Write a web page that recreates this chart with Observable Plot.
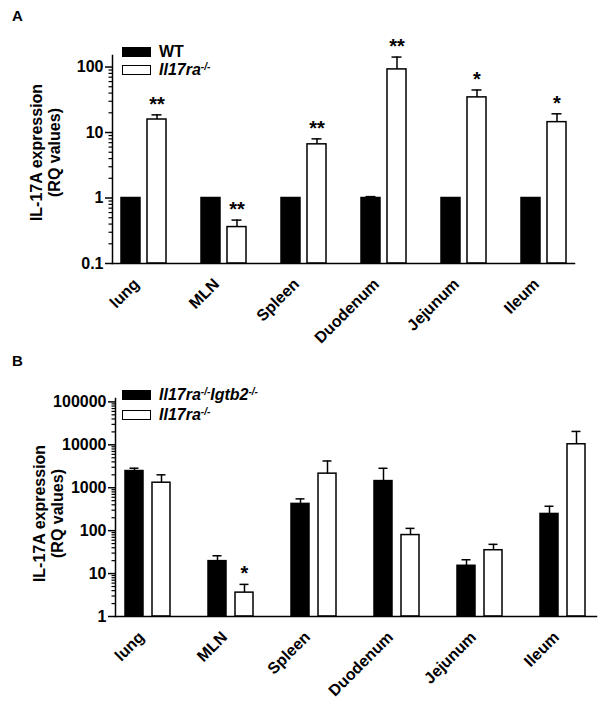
<!DOCTYPE html>
<html><head><meta charset="utf-8">
<script src="https://cdn.jsdelivr.net/npm/d3@7"></script>
<script src="https://cdn.jsdelivr.net/npm/@observablehq/plot@0.6"></script>
<style>
body{margin:0;background:#fff;font-family:"Liberation Sans",Arial,sans-serif;color:#000}
#wrap{position:relative;width:604px;height:702px;overflow:hidden;background:#fff}
.panel{position:absolute;left:0}
.letter{position:absolute;left:12px;font:bold 15px/15px "Liberation Sans",Arial,sans-serif}
.row{position:absolute;left:122px;height:13px;display:flex;align-items:center;white-space:nowrap;font:bold 16px/16px "Liberation Sans",Arial,sans-serif}
.sw{display:inline-block;width:27px;height:8px;border:1.5px solid #000;margin-right:8px;box-sizing:content-box}
.row i sup{font-size:10px;vertical-align:5px;line-height:0}
svg text{font-weight:bold}
</style></head>
<body><div id="wrap"></div>
<script>
// ---- data ----
const organs = ["lung", "MLN", "Spleen", "Duodenum", "Jejunum", "Ileum"];
// Panel A: WT vs Il17ra-/-
const aWT      = [1, 1, 1, 1, 1, 1];
const aWTerr   = [1.0, 1.0, 1.0, 1.05, 1.0, 1.0];
const aKO      = [15.8, 0.36, 6.6, 92, 34.4, 14.4];
const aKOerr   = [18.6, 0.46, 8.0, 142, 44.6, 19.3];
const aKOsig   = ["**", "**", "**", "**", "*", "*"];
const aTicks   = [0.1, 1, 10, 100];
// Panel B: Il17ra-/-Igtb2-/- vs Il17ra-/-
const bDKO     = [2450, 19.5, 420, 1430, 15.2, 245];
const bDKOerr  = [2850, 26, 550, 2840, 21, 370];
const bKO      = [1310, 3.6, 2130, 79, 35, 10300];
const bKOerr   = [2000, 5.6, 4200, 113, 48, 20500];
const bKOsig   = ["", "*", "", "", "", ""];
const bTicks   = [1, 10, 100, 1000, 10000, 100000];
const yTitle   = "IL-17A expression\n(RQ values)";

function rows(v1, e1, v2, e2, s2) {
  return organs.flatMap((o, i) => [
    {organ: o, series: "s1", value: v1[i], err: e1[i], sig: ""},
    {organ: o, series: "s2", value: v2[i], err: e2[i], sig: s2[i]}
  ]);
}
function minorTicks(lo, hi) {
  const out = [];
  for (let p = Math.floor(Math.log10(lo)); p <= Math.ceil(Math.log10(hi)); p++)
    for (let k = 2; k <= 9; k++) { const v = k * Math.pow(10, p); if (v > lo && v < hi) out.push(+v.toPrecision(3)); }
  return out;
}

function panel(data, o) {
  return Plot.plot({
    width: 604, height: o.height,
    marginTop: o.mt, marginBottom: o.mb, marginLeft: o.ml, marginRight: o.mr,
    style: {fontFamily: '"Liberation Sans", Arial, sans-serif', fontSize: "16px", color: "#000", background: "#fff", overflow: "visible"},
    fx: {domain: organs, paddingInner: o.fxPi, paddingOuter: 0, label: null},
    x: {domain: ["s1", "s2"], paddingInner: o.xPi, paddingOuter: o.xPo, axis: null},
    y: {type: "log", domain: o.domain, axis: null},
    color: {domain: ["s1", "s2"], range: ["#000", "#fff"]},
    marks: [
      Plot.barY(data, {fx: "organ", x: "series", y1: o.domain[0], y2: "value", fill: "series", stroke: "#000", strokeWidth: 1.5}),
      Plot.ruleX(data, {fx: "organ", x: "series", y1: "value", y2: "err", stroke: "#000", strokeWidth: 1.5}),
      Plot.tickY(data, {fx: "organ", x: "series", y: "err", stroke: "#000", strokeWidth: 1.5, insetLeft: 4.5, insetRight: 4.5}),
      Plot.text(data, {fx: "organ", x: "series", y: "err", text: "sig", lineAnchor: "bottom", dy: -4, fontSize: 20}),
      Plot.axisY({ticks: o.ticks, tickFormat: d => String(d), tickSize: 7, tickPadding: 2, label: null, fontSize: 16, strokeWidth: 1.5}),
      Plot.axisY({ticks: minorTicks(o.domain[0], o.domain[1]), tickFormat: () => "", tickSize: 3.5, label: null, strokeWidth: 1.2}),
      Plot.axisFx({anchor: "bottom", tickSize: 0, tickRotate: -45, tickPadding: 18, dx: -7, label: null, fontSize: 16}),
      Plot.frame({anchor: "left", facet: "super", strokeWidth: 1.5}),
      Plot.frame({anchor: "bottom", facet: "super", strokeWidth: 1.5}),
      Plot.text([yTitle], {frameAnchor: "left", facet: "super", rotate: -90, textAnchor: "middle", dx: -67, dy: o.titleDy, lineAnchor: "middle", fontSize: 16, lineHeight: 1.1})
    ]
  });
}

const wrap = document.getElementById("wrap");
const pA = panel(rows(aWT, aWTerr, aKO, aKOerr, aKOsig),
  {height: 360, mt: 55, mb: 97, ml: 110, mr: 27, domain: [0.1, 150], ticks: aTicks, fxPi: 0.22, xPi: 0.28, xPo: 0.31, titleDy: -7});
pA.classList.add("panel"); pA.style.top = "0px";
wrap.appendChild(pA);

const pB = panel(rows(bDKO, bDKOerr, bKO, bKOerr, bKOsig),
  {height: 342, mt: 38, mb: 86, ml: 113, mr: 6, domain: [1, 120000], ticks: bTicks, fxPi: 0.2, xPi: 0.33, xPo: 0.38, titleDy: 6});
pB.classList.add("panel"); pB.style.top = "360px";
wrap.appendChild(pB);

function addHTML(html) { const d = document.createElement("div"); d.innerHTML = html; while (d.firstChild) wrap.appendChild(d.firstChild); }
addHTML(`<div class="letter" style="top:8px">A</div>
<div class="row" style="top:45.5px"><span class="sw" style="background:#000"></span>WT</div>
<div class="row" style="top:63.5px"><span class="sw" style="background:#fff"></span><i>Il17ra<sup>-/-</sup></i></div>
<div class="letter" style="top:353px">B</div>
<div class="row" style="top:388.5px"><span class="sw" style="background:#000"></span><i>Il17ra<sup>-/-</sup>Igtb2<sup>-/-</sup></i></div>
<div class="row" style="top:408.5px"><span class="sw" style="background:#fff"></span><i>Il17ra<sup>-/-</sup></i></div>`);
</script>
</body></html>
